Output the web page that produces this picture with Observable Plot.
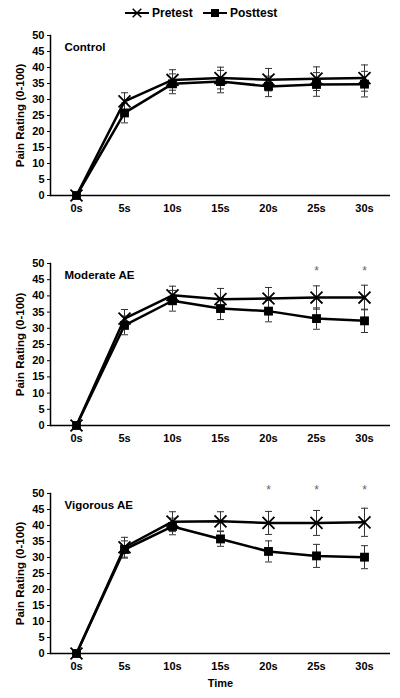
<!DOCTYPE html>
<html>
<head>
<meta charset="utf-8">
<script src="https://cdn.jsdelivr.net/npm/d3@7"></script>
<script src="https://cdn.jsdelivr.net/npm/@observablehq/plot@0.6"></script>
<style>
  body { margin: 0; background: #fff; font-family: "Liberation Sans", Arial, sans-serif; }
  #wrap { position: relative; width: 400px; height: 698px; }
  #legend { position: absolute; left: 0; top: 0; width: 400px; height: 25px; }
  .panel { position: absolute; left: 0; }
</style>
</head>
<body>
<div id="wrap">
  <div id="legend"></div>
  <div id="p1" class="panel" style="top:25px"></div>
  <div id="p2" class="panel" style="top:228px"></div>
  <div id="p3" class="panel" style="top:455px"></div>
</div>
<script>
const times = ["0s", "5s", "10s", "15s", "20s", "25s", "30s"];
const seriesNames = ["Pretest", "Posttest"];
const panelTitles = ["Control", "Moderate AE", "Vigorous AE"];
const yTicks = [0, 5, 10, 15, 20, 25, 30, 35, 40, 45, 50];

// Control
const controlPre = [0, 29.4, 36.1, 36.7, 36.2, 36.5, 36.7];
const controlPreErr = [0, 2.7, 3.2, 3.4, 3.5, 3.7, 4.1];
const controlPost = [0, 25.8, 34.9, 35.6, 34.1, 34.7, 34.8];
const controlPostErr = [0, 3.1, 3.1, 3.5, 3.2, 3.7, 4.0];
// Moderate AE
const moderatePre = [0, 33.0, 40.2, 39.0, 39.2, 39.5, 39.5];
const moderatePreErr = [0, 2.8, 2.8, 3.3, 3.4, 3.6, 3.8];
const moderatePost = [0, 30.9, 38.5, 36.1, 35.3, 33.0, 32.3];
const moderatePostErr = [0, 2.9, 3.2, 3.4, 3.3, 3.3, 3.6];
// Vigorous AE
const vigorousPre = [0, 33.2, 41.2, 41.3, 40.8, 40.8, 41.0];
const vigorousPreErr = [0, 3.1, 3.1, 3.0, 3.6, 3.9, 4.4];
const vigorousPost = [0, 32.5, 39.7, 35.8, 31.9, 30.5, 30.1];
const vigorousPostErr = [0, 2.7, 2.6, 2.3, 3.3, 3.6, 3.6];

// significance markers (*)
const moderateSig = ["25s", "30s"];
const vigorousSig = ["20s", "25s", "30s"];

const FONT = "Liberation Sans, Arial, sans-serif";

const capSymbol = {
  draw(context, size) {
    const w = 3.5;
    context.moveTo(-w, 0);
    context.lineTo(w, 0);
  }
};

function rows(pre, preErr, post, postErr) {
  const out = [];
  times.forEach((t, i) => {
    out.push({time: t, series: "Pretest", value: pre[i], err: preErr[i]});
    out.push({time: t, series: "Posttest", value: post[i], err: postErr[i]});
  });
  return out;
}

function panel(title, data, sig, opts) {
  const pre = data.filter(d => d.series === "Pretest");
  const post = data.filter(d => d.series === "Posttest");
  const withErr = data.filter(d => d.err > 0);
  return Plot.plot({
    width: 400,
    height: opts.height,
    marginLeft: 50,
    marginRight: 10,
    marginTop: opts.marginTop,
    marginBottom: opts.marginBottom,
    style: {fontFamily: FONT, fontSize: "11px", fontWeight: "bold", color: "#000", background: "#fff", overflow: "visible"},
    x: {type: "point", domain: times, padding: 0.5, label: null},
    y: {domain: [0, 50], label: null},
    marks: [
      // error bars
      Plot.ruleX(withErr, {x: "time", y1: d => d.value - d.err, y2: d => d.value + d.err, stroke: "#333", strokeWidth: 1}),
      Plot.dot(withErr, {x: "time", y: d => d.value + d.err, symbol: capSymbol, stroke: "#333", strokeWidth: 1, r: 3}),
      Plot.dot(withErr, {x: "time", y: d => d.value - d.err, symbol: capSymbol, stroke: "#333", strokeWidth: 1, r: 3}),
      // lines
      Plot.line(pre, {x: "time", y: "value", stroke: "#000", strokeWidth: 2.5}),
      Plot.line(post, {x: "time", y: "value", stroke: "#000", strokeWidth: 2.5}),
      // markers
      Plot.dot(pre, {x: "time", y: "value", symbol: "times", r: 5.5, stroke: "#000", strokeWidth: 1.8}),
      Plot.dot(post, {x: "time", y: "value", symbol: "square", r: 5, fill: "#000", stroke: "none"}),
      // axes
      Plot.axisY({ticks: yTicks, tickSize: 3, tickPadding: 3, label: null, fontWeight: "bold", fontSize: 11}),
      Plot.axisX({tickSize: 0, tickPadding: 9, label: opts.xLabel, labelAnchor: "center", labelArrow: "none", labelOffset: 33, fontWeight: "bold", fontSize: 11}),
      Plot.ruleY([0], {stroke: "#000", strokeWidth: 1.5}),
      Plot.frame({anchor: "left", stroke: "#000", strokeWidth: 1.5}),
      // panel title
      Plot.text([title], {frameAnchor: "top-left", dx: 14, dy: 12, text: d => d, fontSize: 11.5, fontWeight: "bold", textAnchor: "start", lineAnchor: "middle", letterSpacing: 0.6}),
      // y label
      Plot.text(["Pain Rating (0-100)"], {frameAnchor: "left", dx: -30, text: d => d, rotate: -90, fontSize: 11.5, fontWeight: "bold", textAnchor: "middle", lineAnchor: "middle"}),
      // significance
      Plot.text(sig, {x: d => d, y: () => opts.sigY, text: () => "*", fill: "#666", fontSize: 12, fontWeight: "normal"})
    ]
  });
}

document.getElementById("p1").append(panel(panelTitles[0], rows(controlPre, controlPreErr, controlPost, controlPostErr), [], {height: 203, marginTop: 10, marginBottom: 33, sigY: 48}));
document.getElementById("p2").append(panel(panelTitles[1], rows(moderatePre, moderatePreErr, moderatePost, moderatePostErr), moderateSig, {height: 227, marginTop: 35, marginBottom: 30, sigY: 47.5}));
document.getElementById("p3").append(panel(panelTitles[2], rows(vigorousPre, vigorousPreErr, vigorousPost, vigorousPostErr), vigorousSig, {height: 243, marginTop: 38, marginBottom: 45, sigY: 51, xLabel: "Time"}));

// legend
const leg = d3.select("#legend").append("svg").attr("width", 400).attr("height", 25)
  .style("font-family", FONT).style("font-weight", "bold").style("font-size", "12px");
const items = [
  {name: seriesNames[0], x: 125, sym: "times"},
  {name: seriesNames[1], x: 203, sym: "square"}
];
items.forEach(it => {
  const g = leg.append("g").attr("transform", `translate(${it.x},13)`);
  g.append("line").attr("x1", 0).attr("x2", 24).attr("stroke", "#000").attr("stroke-width", 2);
  if (it.sym === "times") {
    g.append("path").attr("d", d3.symbol(d3.symbolTimes, 50)()).attr("transform", "translate(12,0)").attr("stroke", "#000").attr("stroke-width", 1.5).attr("fill", "none");
  } else {
    g.append("rect").attr("x", 8).attr("y", -4).attr("width", 8).attr("height", 8).attr("fill", "#000");
  }
  g.append("text").attr("x", 27).attr("dy", "0.35em").text(it.name);
});
</script>
</body>
</html>
